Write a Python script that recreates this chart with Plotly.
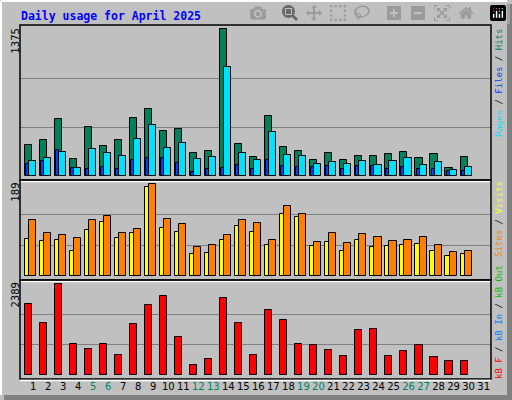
import plotly.graph_objects as go

days = list(range(1, 31))
hits = [290,337,533,159,458,281,337,543,627,421,440,215,234,1375,299,178,561,271,234,150,215,150,187,187,206,224,168,206,75,178]
files = [140,168,224,75,253,215,187,346,477,262,309,159,178,1020,215,150,412,196,187,112,131,112,140,103,140,168,103,131,56,84]
pages = [112,140,243,75,65,84,65,150,168,168,122,37,65,75,103,65,150,94,84,84,94,65,94,94,65,84,65,65,47,47]
visits = [76,72,74,51,95,111,78,88,183,99,90,45,47,74,103,92,64,129,121,62,70,51,74,60,62,64,66,53,41,45]
sites = [115,88,84,78,115,123,88,97,189,117,107,60,64,84,115,109,74,144,129,70,88,68,86,80,72,74,80,64,49,53]
kbytes = [1864,1365,2389,814,683,814,525,1339,1838,2074,998,263,420,2021,1365,525,1706,1444,814,788,656,499,1181,1208,499,630,788,473,368,368]
weekends = [5,6,12,13,19,20,26,27]
tick_days = list(range(1, 32))

W, H = 512, 400
def px(x): return x / W
def py(y): return 1 - y / H

fig = go.Figure()
def bar(y, color, off, wid, axis):
    fig.add_trace(go.Bar(x=days, y=y, offset=off, width=wid, marker=dict(color=color, line=dict(color="black", width=1)),
                         yaxis=axis, showlegend=False))

bar(hits, "#00805C", -0.37, 0.47, "y")
bar(files, "#00E0FF", -0.1, 0.47, "y")
bar(pages, "#0040FF", -0.3, 0.2, "y")
bar(visits, "#FFFF00", -0.37, 0.27, "y2")
bar(sites, "#FF8000", -0.1, 0.47, "y2")
bar(kbytes, "#FF0000", -0.37, 0.47, "y3")

ticktext = [f'<span style="color:#008060">{d}</span>' if d in weekends else str(d) for d in tick_days]
common = dict(showticklabels=False, ticks="", zeroline=False, showgrid=True, gridcolor="#808080", gridwidth=1)
fig.update_layout(
    width=W, height=H, margin=dict(l=0, r=0, t=0, b=0),
    paper_bgcolor="#C0C0C0", plot_bgcolor="#C0C0C0", barmode="overlay", bargap=0,
    xaxis=dict(domain=[px(20), px(491)], range=[0.30, 31.66], anchor="y3", showgrid=False, zeroline=False,
               tickvals=[d + 0.17 for d in tick_days], ticktext=ticktext, ticks="", ticklen=0,
               tickfont=dict(family="DejaVu Sans", size=10, color="black")),
    yaxis=dict(domain=[py(180), py(25)], range=[-34.6, 1415], tickvals=[458, 917], **common),
    yaxis2=dict(domain=[py(280), py(180)], range=[-7.6, 197.8], tickvals=[63, 126], **common),
    yaxis3=dict(domain=[py(379), py(280)], range=[-97, 2502], tickvals=[796, 1593], **common),
)

shapes = [
    dict(type="rect", xref="paper", yref="paper", x0=px(507), x1=1, y0=0, y1=py(4), fillcolor="#808080", line=dict(width=0)),
    dict(type="rect", xref="paper", yref="paper", x0=px(4), x1=1, y0=0, y1=py(395), fillcolor="#808080", line=dict(width=0)),
    dict(type="line", xref="paper", yref="paper", x0=px(1), x1=px(1), y0=py(395), y1=py(1), line=dict(color="white", width=2)),
    dict(type="line", xref="paper", yref="paper", x0=px(1), x1=px(507), y0=py(1), y1=py(1), line=dict(color="white", width=2)),
]
for a, b in [(25, 180), (180, 280), (280, 379)]:
    shapes.append(dict(type="rect", xref="paper", yref="paper", x0=px(20), x1=px(491), y0=py(b), y1=py(a),
                       line=dict(color="black", width=1.5)))
    shapes.append(dict(type="line", xref="paper", yref="paper", x0=px(20), x1=px(491), y0=py(b + 1.5), y1=py(b + 1.5),
                       line=dict(color="white", width=1.5)))
fig.update_layout(shapes=shapes)

mono = "DejaVu Sans Mono"
ann = [
    dict(text="<b>Daily usage for April 2025</b>", x=px(19), y=py(16), xanchor="left", yanchor="middle",
         font=dict(family=mono, size=11.5, color="#0000FF")),
    dict(text="1375", x=px(15), y=py(27), xanchor="center", yanchor="top", textangle=-90, font=dict(family="DejaVu Sans", size=10, color="black")),
    dict(text="189", x=px(15), y=py(181), xanchor="center", yanchor="top", textangle=-90, font=dict(family="DejaVu Sans", size=10, color="black")),
    dict(text="2389", x=px(15), y=py(281), xanchor="center", yanchor="top", textangle=-90, font=dict(family="DejaVu Sans", size=10, color="black")),
    dict(text='<span style="color:#00E0FF">Pages</span> / <span style="color:#0040FF">Files</span> / <span style="color:#00805C">Hits</span>',
         x=px(499), y=py(27), xanchor="center", yanchor="top", textangle=-90, font=dict(family=mono, size=9, color="black")),
    dict(text='<span style="color:#FF8000">Sites</span> / <span style="color:#FFFF00">Visits</span>',
         x=px(499), y=py(179), xanchor="center", yanchor="top", textangle=-90, font=dict(family=mono, size=9, color="black")),
    dict(text='<span style="color:#FF0000">kB F</span> / <span style="color:#0080FF">kB In</span> / <span style="color:#00C000">kB Out</span>',
         x=px(499), y=py(381), xanchor="center", yanchor="bottom", textangle=-90, font=dict(family=mono, size=9, color="black")),
]
for a in ann:
    a.update(xref="paper", yref="paper", showarrow=False)
fig.update_layout(annotations=ann)

fig.write_html("out.html", post_script="document.body.style.margin='0';document.body.style.padding='0';")
